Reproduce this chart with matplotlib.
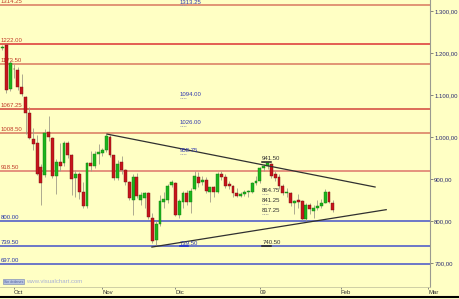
import matplotlib
matplotlib.use("Agg")
import matplotlib.pyplot as plt
import numpy as np

plt.rcParams['font.family'] = ['Liberation Sans', 'DejaVu Sans']

# daily candles, 26 Sep 2008 .. 30 Jan 2009 (trading-day index 0..86)
opens = [1211, 1218, 1114, 1163, 1160, 1120, 1095, 1057, 996, 986, 928, 910, 1012, 998, 906, 940,
         938, 985, 956, 903, 912, 868, 836, 938, 930, 960,
         962, 969, 1000, 957, 903, 940, 921, 893, 851, 905, 850, 855, 866, 808, 754, 792, 846, 850, 886,
         890, 815, 845, 866, 846, 876, 905, 892, 898, 870, 880, 870, 912, 904, 887, 884, 867, 860, 865, 868, 870, 890,
         895, 926, 932, 935, 912, 905, 884, 866, 866, 842, 851, 848, 805, 838, 823, 830, 836, 844, 869, 844]
highs = [1218, 1222, 1182, 1173.5, 1166, 1150, 1097, 1072, 1021, 1005, 936, 1018, 1050, 1000, 948, 985,
         990, 990, 960, 922, 916, 893, 941, 966, 966, 984,
         975, 1007, 1005, 958, 945, 955, 925, 896, 913, 915, 870, 870, 870, 820, 800, 862, 868, 888, 898,
         893, 852, 872, 875, 878, 918, 916, 906, 904, 882, 884, 916, 918, 912, 896, 886, 878, 870, 874, 873, 892, 906,
         928, 936, 941.5, 938, 918, 912, 888, 878, 870, 850, 864, 850, 842, 842, 838, 850, 852, 876, 871, 851]
lows = [1206, 1104, 1110, 1140, 1112, 1098, 1007, 996, 970, 909, 839, 905, 990, 903, 865, 918,
        930, 950, 862, 858, 852, 830, 832, 918, 926, 935,
        955, 965, 952, 898, 898, 912, 885, 850, 814, 855, 838, 832, 805, 747, 739.5, 788, 830, 842, 880,
        812, 806, 830, 838, 818, 874, 880, 885, 866, 845, 857, 866, 898, 878, 877, 858, 856, 857, 860, 856, 866, 885,
        890, 919, 925, 902, 896, 876, 862, 858, 836, 816, 830, 802, 800, 816, 806, 826, 832, 842, 843, 822]
closes = [1214, 1112, 1176, 1161, 1118, 1102, 1057, 998, 984, 912, 890, 1010, 1000, 906, 940, 932,
          985, 956, 900, 912, 868, 836, 938, 930, 960, 965,
          968, 1002, 957, 903, 936, 921, 894, 855, 905, 860, 862, 866, 810, 752, 792, 848, 852, 884, 893,
          815, 848, 866, 846, 872, 906, 890, 898, 872, 880, 868, 912, 904, 884, 884, 866, 860, 865, 869, 871, 890, 895,
          926, 932, 937, 906, 902, 884, 866, 870, 842, 848, 846, 805, 838, 829, 830, 836, 844, 870, 846, 826]

# horizontal levels
red_levels = [1313.25, 1222.00, 1173.50, 1067.25, 1008.50, 918.50]
red_colors = ['#DE8C6E', '#E0504A', '#DE8C6E', '#D9604F', '#DE8C6E', '#E38A78']
blue_levels = [800.00, 739.50, 697.00]

# annotations (x index, value, text colour)
notes_mid = [(46.2, 1313.25, '#3038B0'), (46.2, 1094.00, '#3038B0'), (46.2, 1026.00, '#3038B0'),
             (46.2, 958.75, '#3038B0'), (46.2, 739.50, '#3038B0')]
notes_right = [(67.6, 941.50), (67.6, 864.75), (67.6, 841.25), (67.6, 817.25), (67.6, 740.50)]

# trend lines
down_x, down_y = [27.2, 97.0], [1007.0, 881.0]
up_x, up_y = [38.9, 99.9], [738.0, 827.0]

months = ['Oct', 'Nov', 'Dic', '09', 'Feb', 'Mar']
month_pos = [3, 26, 45, 67, 88, 110.8]
price_ticks = [700, 800, 900, 1000, 1100, 1200, 1300]

bg = '#FFFFC4'
fig = plt.figure(figsize=(4.6, 2.99), dpi=100, facecolor=bg)
ax = fig.add_axes([0, 12 / 299, 430 / 460, 287 / 299])
ax.set_facecolor(bg)
ax.set_xlim(-0.65, 111.3)
ax.set_ylim(642.9, 1326.2)

for lvl, col in zip(red_levels, red_colors):
    ax.axhline(lvl, color=col, lw=1.3, zorder=1)
for lvl in blue_levels:
    ax.axhline(lvl, color='#4452C8', lw=1.1, zorder=1)

for lvl in red_levels[1:]:
    ax.text(-0.4, lvl + 3, f'{lvl:.2f}', color='#C03A28', fontsize=4.3, va='bottom', ha='left')
ax.text(-0.4, 1316, '1314.25', color='#C03A28', fontsize=4.3, va='bottom', ha='left', clip_on=True)
for lvl in blue_levels:
    ax.text(-0.4, lvl + 3, f'{lvl:.2f}', color='#2836A8', fontsize=4.3, va='bottom', ha='left')

# candles
x = np.arange(len(closes))
o = np.array(opens, float)
c = np.array(closes, float)
ax.vlines(x, lows, highs, color='#A09C88', lw=0.6, zorder=2)
up = c >= o
body_lo = np.minimum(o, c)
body_h = np.maximum(np.abs(c - o), 2)
ax.bar(x[up], body_h[up], bottom=body_lo[up], width=0.75, color='#1DB41D', edgecolor='#0C7A0C', lw=0.3, zorder=3)
ax.bar(x[~up], body_h[~up], bottom=body_lo[~up], width=0.75, color='#C8141C', edgecolor='#701010', lw=0.3, zorder=3)

ax.plot(down_x, down_y, color='#303030', lw=0.9, zorder=4)
ax.plot(up_x, up_y, color='#303030', lw=0.9, zorder=4)

for xi, v, col in notes_mid:
    ax.text(xi, v + 2, f'{v:.2f}', color=col, fontsize=4.3, va='bottom', ha='left', zorder=5, clip_on=True)
    ax.plot([xi, xi + 1.6], [v, v], color='#9090B0', lw=0.6, ls=(0, (1, 1)), zorder=5)
ax.plot([46.2, 48.4], [739.5, 739.5], color='#2030D0', lw=1.2, zorder=5)
for xi, v in notes_right:
    ax.text(xi, v + 2, f'{v:.2f}', color='#303030', fontsize=4.3, va='bottom', ha='left', zorder=5)
    ax.plot([xi, xi + 1.6], [v, v], color='#909090', lw=0.6, ls=(0, (1, 1)), zorder=5)
ax.plot([67.6, 70.0], [941.5, 941.5], color='#202020', lw=1.1, zorder=5)
ax.plot([67.6, 70.0], [740.5, 740.5], color='#202020', lw=1.1, zorder=5)

ax.yaxis.tick_right()
ax.set_yticks(price_ticks)
ax.set_yticklabels([f'{t:,.2f}'.replace(',', 'X').replace('.', ',').replace('X', '.') for t in price_ticks])
ax.tick_params(axis='y', length=2, width=0.6, color='#707070', labelsize=4.3, labelcolor='#2A2A70', pad=1)
ax.set_xticks(month_pos)
ax.set_xticklabels(months)
for lab in ax.get_xticklabels():
    lab.set_horizontalalignment('left')
ax.tick_params(axis='x', length=1.5, width=0.6, color='#707070', labelsize=4.3, labelcolor='#303030', pad=0.3)

for side in ['top', 'left']:
    ax.spines[side].set_visible(False)
ax.spines['right'].set_color('#9A9A90')
ax.spines['right'].set_linewidth(0.8)
ax.spines['bottom'].set_color('#C8C8A0')
ax.spines['bottom'].set_linewidth(0.6)

ax.text(0.3, 651, 'Sin órdenes', fontsize=2.6, color='#5060A0', va='bottom', ha='left',
        bbox=dict(boxstyle='square,pad=0.2', fc='#B8C4E0', ec='#7080B0', lw=0.4))
ax.text(6.0, 651, 'www.visualchart.com', fontsize=4.3, color='#A8B0D8', va='bottom', ha='left')

fig.add_artist(plt.Line2D([0, 1], [2 / 299, 2 / 299], color='black', lw=1.5))

fig.savefig('out.png', dpi=100, facecolor=bg)
